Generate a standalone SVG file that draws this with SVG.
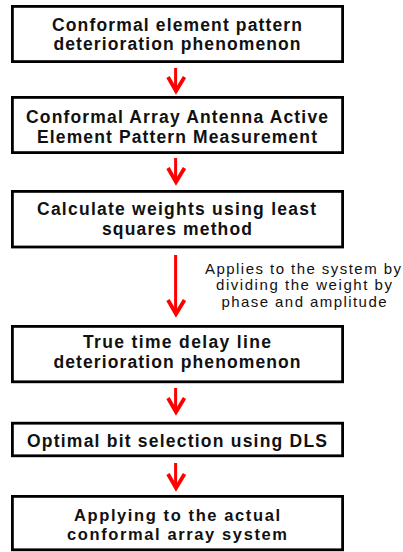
<svg xmlns="http://www.w3.org/2000/svg" width="403" height="552" viewBox="0 0 403 552">
  <style>
    .box { fill: #ffffff; stroke: #000000; stroke-width: 2.8; }
    .t { font-family: "Liberation Sans", Arial, sans-serif; font-weight: bold; font-size: 17.5px; fill: #111111; text-anchor: middle; }
    .t2 { font-size: 16.5px; }
    .lbl { font-family: "Liberation Sans", Arial, sans-serif; font-size: 15px; fill: #111111; text-anchor: middle; }
    .shaft { stroke: #ff0000; stroke-width: 3; fill: none; }
    .head { stroke: #ff0000; stroke-width: 3.8; fill: none; stroke-linejoin: miter; stroke-linecap: butt; }
  </style>
  <rect width="403" height="552" fill="#ffffff"/>

  <g id="node1">
    <rect class="box" x="12.4" y="6.4" width="330.2" height="55.2"/>
    <text class="t" x="177" y="30.7" textLength="250" lengthAdjust="spacing">Conformal element pattern</text>
    <text class="t" x="177" y="50" textLength="247" lengthAdjust="spacing">deterioration phenomenon</text>
  </g>

  <g id="node2">
    <rect class="box" x="12.4" y="97.4" width="330.2" height="55.2"/>
    <text class="t" x="177" y="122.7" textLength="302" lengthAdjust="spacing">Conformal Array Antenna Active</text>
    <text class="t" x="177" y="142.7" textLength="280" lengthAdjust="spacing">Element Pattern Measurement</text>
  </g>

  <g id="node3">
    <rect class="box" x="12.4" y="191.4" width="330.2" height="55.6"/>
    <text class="t" x="176.5" y="215" textLength="279" lengthAdjust="spacing">Calculate weights using least</text>
    <text class="t" x="177" y="235" textLength="150" lengthAdjust="spacing">squares method</text>
  </g>

  <g id="node4">
    <rect class="box" x="12.4" y="326.4" width="330.2" height="55.4"/>
    <text class="t" x="177" y="348" textLength="188" lengthAdjust="spacing">True time delay line</text>
    <text class="t" x="177" y="368" textLength="247" lengthAdjust="spacing">deterioration phenomenon</text>
  </g>

  <g id="node5">
    <rect class="box" x="12.4" y="423.2" width="330.2" height="32.6"/>
    <text class="t" x="177" y="447" textLength="300" lengthAdjust="spacing">Optimal bit selection using DLS</text>
  </g>

  <g id="node6">
    <rect class="box" x="12.4" y="496.4" width="330.2" height="53.4"/>
    <text class="t t2" x="177" y="520.5" textLength="206" lengthAdjust="spacing">Applying to the actual</text>
    <text class="t t2" x="177" y="540" textLength="220" lengthAdjust="spacing">conformal array system</text>
  </g>

  <g id="connectors">
    <!-- 1 -> 2 -->
    <line class="shaft" x1="175.6" y1="68" x2="175.6" y2="90"/>
    <polyline class="head" points="168,77 176,91 184.5,77"/>
    <!-- 2 -> 3 -->
    <line class="shaft" x1="175.6" y1="158" x2="175.6" y2="181"/>
    <polyline class="head" points="168,168 176,182 184.5,168"/>
    <!-- 3 -> 4 -->
    <line class="shaft" x1="175.6" y1="255" x2="175.6" y2="313"/>
    <polyline class="head" points="168,300 176,314 184.5,300"/>
    <!-- 4 -> 5 -->
    <line class="shaft" x1="175.6" y1="388" x2="175.6" y2="411"/>
    <polyline class="head" points="168,398 176,412 184.5,398"/>
    <!-- 5 -> 6 -->
    <line class="shaft" x1="175.6" y1="463" x2="175.6" y2="487"/>
    <polyline class="head" points="168,474 176,488 184.5,474"/>

    <text class="lbl" x="303" y="274" textLength="196" lengthAdjust="spacing">Applies to the system by</text>
    <text class="lbl" x="304" y="290" textLength="176" lengthAdjust="spacing">dividing the weight by</text>
    <text class="lbl" x="304" y="307" textLength="165" lengthAdjust="spacing">phase and amplitude</text>
  </g>
</svg>
